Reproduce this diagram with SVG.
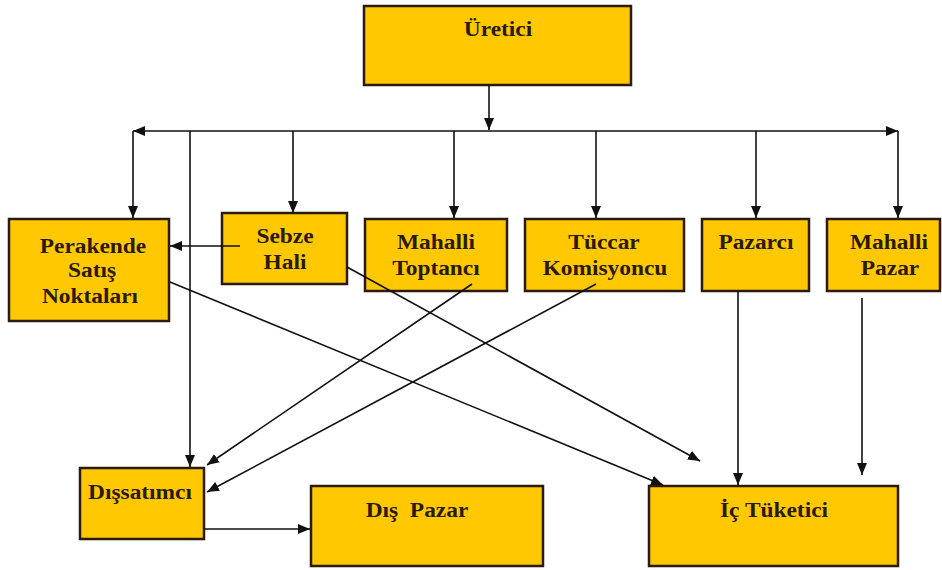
<svg xmlns="http://www.w3.org/2000/svg" width="942" height="570" viewBox="0 0 942 570">
<style>
.box{fill:#FFC800;stroke:#2a1b0e;stroke-width:2.5}
.t{font-family:"Liberation Serif","Times New Roman",serif;font-weight:bold;font-size:20px;fill:#2a1a0a;text-anchor:middle;white-space:pre}
.c{stroke:#111;stroke-width:1.6;fill:none}
.a{marker-end:url(#ah)}
</style>
<defs>
<marker id="ah" markerUnits="userSpaceOnUse" markerWidth="13" markerHeight="11" refX="12" refY="5" orient="auto">
<path d="M0,0 L12,5 L0,10 z" fill="#111"/>
</marker>
</defs>
<rect width="942" height="570" fill="#fff"/>
<g id="uretici"><rect class="box" x="364" y="6" width="267" height="79"/><text class="t" transform="translate(498,36) scale(1.17,1)">Üretici</text></g>
<g id="perakende"><rect class="box" x="9" y="219" width="160" height="102"/>
<text class="t" transform="translate(93,253) scale(1.17,1)">Perakende</text>
<text class="t" transform="translate(92,277) scale(1.17,1)">Satış</text>
<text class="t" transform="translate(90,303) scale(1.17,1)">Noktaları</text></g>
<g id="sebze"><rect class="box" x="222" y="213" width="125" height="71"/>
<text class="t" transform="translate(285,243) scale(1.17,1)">Sebze</text>
<text class="t" transform="translate(285,269) scale(1.17,1)">Hali</text></g>
<g id="toptanci"><rect class="box" x="365" y="219" width="142" height="72"/>
<text class="t" transform="translate(436,249) scale(1.17,1)">Mahalli</text>
<text class="t" transform="translate(436,275) scale(1.17,1)">Toptancı</text></g>
<g id="tuccar"><rect class="box" x="525" y="219" width="159" height="72"/>
<text class="t" transform="translate(604,249) scale(1.17,1)">Tüccar</text>
<text class="t" transform="translate(605,275) scale(1.17,1)">Komisyoncu</text></g>
<g id="pazarci"><rect class="box" x="702" y="219" width="107" height="72"/>
<text class="t" transform="translate(756,249) scale(1.17,1)">Pazarcı</text></g>
<g id="mahallipazar"><rect class="box" x="827" y="219" width="113" height="72"/>
<text class="t" transform="translate(889,249) scale(1.17,1)">Mahalli</text>
<text class="t" transform="translate(890,275) scale(1.17,1)">Pazar</text></g>
<g id="dissatimci"><rect class="box" x="80" y="468" width="124" height="71"/>
<text class="t" transform="translate(140,499) scale(1.17,1)">Dışsatımcı</text></g>
<g id="dispazar"><rect class="box" x="311" y="486" width="232" height="80"/>
<text class="t" transform="translate(417,517) scale(1.17,1)">Dış  Pazar</text></g>
<g id="ictuketici"><rect class="box" x="649" y="486" width="249" height="80"/>
<text class="t" transform="translate(774,517) scale(1.17,1)">İç Tüketici</text></g>
<g id="connectors">
<path class="c a" d="M489,85 V130"/>
<path class="c a" d="M489,131 H133"/>
<path class="c a" d="M489,131 H898"/>
<path class="c a" d="M133,131 V218"/>
<path class="c a" d="M898,131 V218"/>
<path class="c a" d="M293,131 V213"/>
<path class="c a" d="M454,131 V218"/>
<path class="c a" d="M596,131 V218"/>
<path class="c a" d="M756,131 V218"/>
<path class="c a" d="M190,131 V467"/>
<path class="c a" d="M240,246 H170"/>
<path class="c a" d="M170,282 L663,485"/>
<path class="c a" d="M347,267 L700,461"/>
<path class="c a" d="M472,284 L207,465"/>
<path class="c a" d="M596,284 L207,492"/>
<path class="c a" d="M738,291 V485"/>
<path class="c a" d="M862,298 V475"/>
<path class="c a" d="M204,529 H310"/>
</g>
</svg>
